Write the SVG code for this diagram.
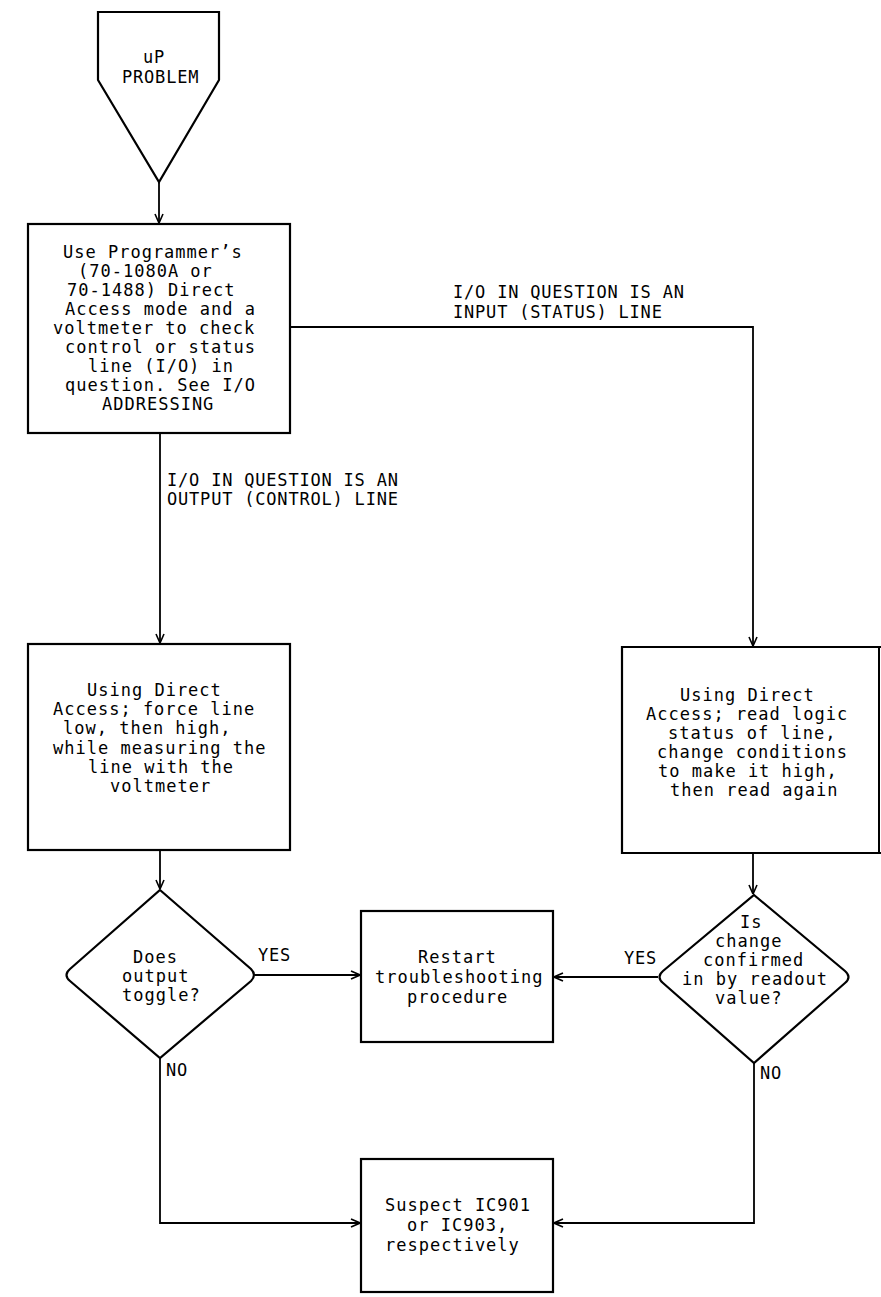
<svg xmlns="http://www.w3.org/2000/svg" width="881" height="1297" viewBox="0 0 881 1297">
<defs>
<marker id="arr" viewBox="0 0 10 10" refX="10" refY="5" markerWidth="10" markerHeight="10" markerUnits="userSpaceOnUse" orient="auto">
<path d="M1,1 L10,5 L1,9" fill="none" stroke="#000" stroke-width="1.6"/>
</marker>
<style>
.shape{fill:#fff;stroke:#000;stroke-width:2.2}
.conn{fill:none;stroke:#000;stroke-width:1.8;marker-end:url(#arr)}
.t{font-family:"DejaVu Sans Mono","Liberation Mono",monospace;font-size:17px;letter-spacing:1px;fill:#000}
.l{font-family:"DejaVu Sans Mono","Liberation Mono",monospace;font-size:17px;letter-spacing:0.8px;fill:#000}
</style>
</defs>
<rect width="881" height="1297" fill="#fff"/>

<g id="connectors">
<path class="conn" d="M159,182 L159,223"/>
<path class="conn" d="M160,433 L160,643"/>
<path class="conn" d="M290,327 L753,327 L753,646"/>
<path class="conn" d="M160,850 L160,889"/>
<path class="conn" d="M753,853 L753,894"/>
<path class="conn" d="M255,975 L360,975"/>
<path class="conn" d="M658,977 L554,977"/>
<path class="conn" d="M160,1058 L160,1223 L360,1223"/>
<path class="conn" d="M754,1063 L754,1223 L554,1223"/>
</g>

<g id="start">
<path class="shape" d="M98,12 L219,12 L219,80 L159,182 L98,80 Z"/>
<text class="l" x="143" y="63">uP</text>
<text class="l" x="122" y="83">PROBLEM</text>
</g>

<g id="box-programmer">
<rect class="shape" x="28" y="224" width="262" height="209"/>
<text class="t" x="63" y="258">Use Programmer’s</text>
<text class="t" x="78" y="277">(70-1080A or</text>
<text class="t" x="67" y="296">70-1488) Direct</text>
<text class="t" x="65" y="315">Access mode and a</text>
<text class="t" x="53" y="334">voltmeter to check</text>
<text class="t" x="65" y="353">control or status</text>
<text class="t" x="88" y="372">line (I/O) in</text>
<text class="t" x="65" y="391">question. See I/O</text>
<text class="t" x="102" y="410">ADDRESSING</text>
</g>

<g id="label-input">
<text class="l" x="453" y="298">I/O IN QUESTION IS AN</text>
<text class="l" x="453" y="318">INPUT (STATUS) LINE</text>
</g>

<g id="label-output">
<text class="l" x="167" y="486">I/O IN QUESTION IS AN</text>
<text class="l" x="167" y="505">OUTPUT (CONTROL) LINE</text>
</g>

<g id="box-force">
<rect class="shape" x="28" y="644" width="262" height="206"/>
<text class="t" x="87" y="696">Using Direct</text>
<text class="t" x="53" y="715">Access; force line</text>
<text class="t" x="63" y="734">low, then high,</text>
<text class="t" x="53" y="754">while measuring the</text>
<text class="t" x="88" y="773">line with the</text>
<text class="t" x="110" y="792">voltmeter</text>
</g>

<g id="box-read">
<path class="shape" d="M881,647 L622,647 L622,853 L881,853"/>
<line x1="879" y1="647" x2="879" y2="853" stroke="#000" stroke-width="2"/>
<text class="t" x="680" y="701">Using Direct</text>
<text class="t" x="646" y="720">Access; read logic</text>
<text class="t" x="668" y="739">status of line,</text>
<text class="t" x="657" y="758">change conditions</text>
<text class="t" x="658" y="777">to make it high,</text>
<text class="t" x="670" y="796">then read again</text>
</g>

<g id="dec-toggle">
<path class="shape" d="M160,890 L251,969 Q257,975 251,981 L160,1058 L70,981 Q63,975 70,969 Z"/>
<text class="t" x="133" y="963">Does</text>
<text class="t" x="122" y="982">output</text>
<text class="t" x="122" y="1001">toggle?</text>
</g>

<g id="dec-confirm">
<path class="shape" d="M754,895 L845,971 Q852,977 845,983 L754,1063 L663,983 Q656,977 663,971 Z"/>
<text class="t" x="740" y="928">Is</text>
<text class="t" x="715" y="947">change</text>
<text class="t" x="703" y="966">confirmed</text>
<text class="t" x="682" y="985">in by readout</text>
<text class="t" x="715" y="1004">value?</text>
</g>

<g id="box-restart">
<rect class="shape" x="361" y="911" width="192" height="131"/>
<text class="t" x="418" y="963">Restart</text>
<text class="t" x="375" y="983">troubleshooting</text>
<text class="t" x="407" y="1003">procedure</text>
</g>

<g id="box-suspect">
<rect class="shape" x="361" y="1159" width="192" height="133"/>
<text class="t" x="385" y="1211">Suspect IC901</text>
<text class="t" x="407" y="1231">or IC903,</text>
<text class="t" x="385" y="1251">respectively</text>
</g>

<g id="branch-labels">
<text class="l" x="258" y="961">YES</text>
<text class="l" x="624" y="964">YES</text>
<text class="l" x="166" y="1076">NO</text>
<text class="l" x="760" y="1079">NO</text>
</g>
</svg>
